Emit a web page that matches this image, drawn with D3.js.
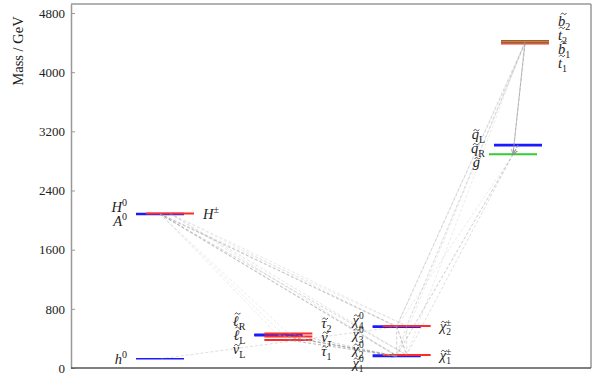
<!DOCTYPE html>
<html>
<head>
<meta charset="utf-8">
<script src="https://cdn.jsdelivr.net/npm/d3@7"></script>
<style>
body { margin: 0; background: #fff; }
text { font-family: "Liberation Serif", "DejaVu Serif", serif; }
</style>
</head>
<body>
<svg id="chart" width="599" height="390"></svg>
<script>
// spectrum columns and axis ticks
var columns = ["higgs", "sleptons", "gauginos", "squarks"];
var yTicks = [0, 800, 1600, 2400, 3200, 4000, 4800];

// particles: id, mass (GeV), column, label side
var particles = ["h0", "H0", "A0", "Hpm", "lR", "lL", "nuL", "tau2", "nutau", "tau1",
                 "N4", "N3", "N2", "N1", "C2", "C1", "qL", "qR", "gl", "b2", "t2", "b1", "t1"];
var masses = [125, 2085, 2080, 2088, 452, 446, 438, 468, 425, 378,
              566, 556, 172, 160, 568, 176, 3018, 3010, 2889, 4425, 4410, 4397, 4383];
var particleColumn = ["higgs", "higgs", "higgs", "higgs", "sleptons", "sleptons", "sleptons", "sleptons", "sleptons", "sleptons",
                      "gauginos", "gauginos", "gauginos", "gauginos", "gauginos", "gauginos", "squarks", "squarks", "squarks", "squarks", "squarks", "squarks", "squarks"];
var labelSide = ["L", "L", "L", "R", "L", "L", "L", "R", "R", "R",
                 "L", "L", "L", "L", "R", "R", "L", "L", "L", "R", "R", "R", "R"];

// label pieces (tilde drawn separately)
var labelBase = ["h", "H", "A", "H", "ℓ", "ℓ", "ν", "τ", "ν", "τ",
                 "χ", "χ", "χ", "χ", "χ", "χ", "q", "q", "g", "b", "t", "b", "t"];
var labelTilde = [false, false, false, false, true, true, true, true, true, true,
                  true, true, true, true, true, true, true, true, true, true, true, true, true];
var labelSup = ["0", "0", "0", "±", "", "", "", "", "", "",
                "0", "0", "0", "0", "±", "±", "", "", "", "", "", "", ""];
var labelSub = ["", "", "", "", "R", "L", "L", "2", "τ", "1",
                "4", "3", "2", "1", "2", "1", "L", "R", "", "2", "2", "1", "1"];

// decays: parent -> child with branching ratio
var decayParent = ["H0", "H0", "H0", "H0", "H0", "H0", "A0", "A0", "A0", "A0", "A0", "Hpm", "Hpm", "Hpm", "Hpm",
                   "H0", "A0", "H0",
                   "tau1", "tau2", "nutau", "lR", "lL", "nuL",
                   "N3", "N3", "N3", "N4", "N4", "C2", "C2",
                   "qL", "qR", "gl", "gl", "gl", "gl",
                   "t1", "b1", "t2", "b2", "t1", "t1", "b1", "b1", "t2", "t2", "b2"];
var decayChild = ["N1", "N2", "N3", "N4", "C1", "C2", "N1", "N2", "N3", "N4", "C1", "C1", "C2", "N1", "N3",
                  "tau1", "tau2", "nuL",
                  "N1", "N1", "N1", "N1", "N1", "N1",
                  "h0", "C1", "N1", "C1", "N1", "N2", "C1",
                  "gl", "gl", "N1", "N2", "C1", "N3",
                  "gl", "gl", "gl", "gl", "C2", "N4", "N3", "C2", "N4", "N1", "C1"];
var decayBR = [0.2, 0.15, 0.15, 0.1, 0.15, 0.1, 0.2, 0.15, 0.15, 0.1, 0.15, 0.2, 0.15, 0.15, 0.1,
               0.1, 0.1, 0.08,
               0.9, 0.6, 0.5, 0.5, 0.4, 0.4,
               0.3, 0.3, 0.2, 0.5, 0.2, 0.3, 0.3,
               0.9, 0.9, 0.2, 0.25, 0.3, 0.1,
               0.8, 0.3, 0.3, 0.3, 0.15, 0.15, 0.15, 0.15, 0.1, 0.1, 0.1];

var margin = {top: 4, right: 8, bottom: 22, left: 71},
    W = 599, H = 390;

var svg = d3.select("#chart");

var y = d3.scaleLinear().domain([0, 4922]).range([H - margin.bottom, margin.top]);
var x = d3.scalePoint().domain(columns).range([margin.left + 94, W - margin.right - 71]);

var halfLen = 24;
var sideShift = {L: -5, R: 5};
var specialShift = {qL: -2, qR: -2, gl: -7};
var colorOf = {L: "#1a1aff", R: "#ff2a2a"};
var specialColor = {gl: "#33cc33", b2: "#ff2a2a", t2: "#2fbf2f", b1: "#7a4a10", t1: "#ff3030"};

var parts = particles.map(function(id, i) {
  var shift = specialShift[id] !== undefined ? specialShift[id] : sideShift[labelSide[i]];
  var cx = x(particleColumn[i]) + shift;
  return {
    id: id, mass: masses[i], side: labelSide[i], col: particleColumn[i],
    cx: cx, cy: y(masses[i]),
    base: labelBase[i], tilde: labelTilde[i], sup: labelSup[i], sub: labelSub[i],
    color: specialColor[id] || colorOf[labelSide[i]],
    thin: ["b2", "t2", "b1", "t1"].indexOf(id) >= 0
  };
});
var byId = {};
parts.forEach(function(p) { byId[p.id] = p; });

// frame
var x0 = margin.left, x1 = W - margin.right, y0 = margin.top, y1 = H - margin.bottom;
svg.append("line").attr("x1", x0).attr("x2", x1).attr("y1", y0).attr("y2", y0)
  .attr("stroke", "#999").attr("stroke-width", 1.5);
svg.append("line").attr("x1", x1).attr("x2", x1).attr("y1", y0).attr("y2", y1)
  .attr("stroke", "#999").attr("stroke-width", 1.5);

// y axis
var gy = svg.append("g").attr("transform", "translate(" + x0 + ",0)")
  .call(d3.axisLeft(y).tickValues(yTicks).tickFormat(d3.format("d"))
    .tickSizeInner(-4).tickSizeOuter(0).tickPadding(6));
gy.select(".domain").attr("stroke", "#999").attr("stroke-width", 1.5);
gy.selectAll(".tick line").attr("stroke", "#999");
gy.selectAll(".tick text").attr("font-size", "13px").attr("fill", "#222")
  .style("font-family", "'Liberation Serif', serif");

svg.append("line").attr("x1", x0).attr("x2", x1).attr("y1", y1).attr("y2", y1)
  .attr("stroke", "#555").attr("stroke-width", 1.5);

svg.append("text")
  .attr("transform", "translate(18,51) rotate(-90)")
  .attr("text-anchor", "middle").attr("dy", "0.35em")
  .attr("font-size", "14.5px").attr("fill", "#222")
  .text("Mass / GeV");

// mass lines
svg.append("g").selectAll("line")
  .data(parts)
  .enter().append("line")
  .attr("x1", function(d) { return d.cx - halfLen; })
  .attr("x2", function(d) { return d.cx + halfLen; })
  .attr("y1", function(d) { return d.cy; })
  .attr("y2", function(d) { return d.cy; })
  .attr("stroke", function(d) { return d.color; })
  .attr("stroke-width", function(d) { return d.thin ? 1.3 : (d.id === "h0" ? 1.6 : 2); });

// decay lines
svg.append("defs").append("marker")
  .attr("id", "arr").attr("viewBox", "0 0 10 10").attr("refX", 9).attr("refY", 5)
  .attr("markerWidth", 6).attr("markerHeight", 6).attr("orient", "auto")
  .append("path").attr("d", "M0,1 L9,5 L0,9").attr("fill", "none").attr("stroke", "#888").attr("stroke-width", 1.5);

var decays = decayParent.map(function(p, i) {
  return {from: byId[p], to: byId[decayChild[i]], br: decayBR[i]};
});
svg.append("g").selectAll("line")
  .data(decays)
  .enter().append("line")
  .attr("x1", function(d) { return d.from.cx; })
  .attr("y1", function(d) { return d.from.cy; })
  .attr("x2", function(d) { return d.to.cx; })
  .attr("y2", function(d) { return d.to.cy; })
  .attr("stroke", "#999")
  .attr("stroke-width", 1)
  .attr("stroke-dasharray", "3,2")
  .attr("opacity", function(d) { return 0.12 + 0.6 * d.br; })
  .attr("marker-end", function(d) { return d.br >= 0.75 ? "url(#arr)" : null; });

// labels, stacked so they do not overlap
var gap = 14;
function stackLabels(items) {
  items.sort(function(a, b) { return a.cy - b.cy; });
  var groups = items.map(function(d) { return {members: [d], center: d.cy}; });
  var merged = true;
  while (merged) {
    merged = false;
    for (var i = 0; i < groups.length - 1; i++) {
      var a = groups[i], b = groups[i + 1];
      var aBot = a.center + (a.members.length - 1) * gap / 2;
      var bTop = b.center - (b.members.length - 1) * gap / 2;
      if (bTop - aBot < gap) {
        var m = a.members.concat(b.members);
        groups.splice(i, 2, {members: m, center: d3.mean(m, function(d) { return d.cy; })});
        merged = true;
        break;
      }
    }
  }
  groups.forEach(function(g) {
    g.members.forEach(function(d, k) {
      d.ly = g.center + (k - (g.members.length - 1) / 2) * gap;
    });
  });
}
columns.forEach(function(c) {
  ["L", "R"].forEach(function(s) {
    stackLabels(parts.filter(function(d) { return d.col === c && d.side === s; }));
  });
});

var labG = svg.append("g");
var lab = labG.selectAll("text.lab")
  .data(parts)
  .enter().append("text")
  .attr("class", "lab")
  .attr("x", function(d) { return d.side === "L" ? d.cx - halfLen - 9 : d.cx + halfLen + 9; })
  .attr("y", function(d) { return d.ly; })
  .attr("text-anchor", function(d) { return d.side === "L" ? "end" : "start"; })
  .attr("font-size", "14.5px")
  .attr("fill", "#222");

var tallBase = {"ℓ": true, "b": true, "t": true};
lab.each(function(d) {
  var t = d3.select(this);
  t.append("tspan").attr("dy", "0.35em").style("font-style", "italic").text(d.base);
  if (d.sup && d.sub) {
    t.append("tspan").attr("dy", -5.5).attr("font-size", "9.5px").text(d.sup);
    t.append("tspan").attr("dx", -5).attr("dy", 9.5).attr("font-size", "9.5px").text(d.sub);
  } else if (d.sup) {
    t.append("tspan").attr("dy", -6).attr("font-size", "10px").text(d.sup);
  } else if (d.sub) {
    t.append("tspan").attr("dy", 4).attr("font-size", "10px")
      .style("font-style", d.sub === "τ" ? "italic" : "normal").text(d.sub);
  }
  if (d.tilde) {
    // small wave above the letter
    var ext = this.getExtentOfChar(0);
    var tall = tallBase[d.base];
    var tx = ext.x + ext.width / 2 + (tall ? 2 : 1.2);
    var ty = d.ly + (tall ? -7.5 : -4);
    labG.append("path")
      .attr("transform", "translate(" + tx + "," + ty + ")")
      .attr("d", "M-2.8,0.7 C-1.8,-1.1 -0.8,-0.9 0,0 C0.8,0.9 1.8,1.1 2.8,-0.7")
      .attr("fill", "none")
      .attr("stroke", "#222")
      .attr("stroke-width", 0.8);
  }
});
</script>
</body>
</html>
